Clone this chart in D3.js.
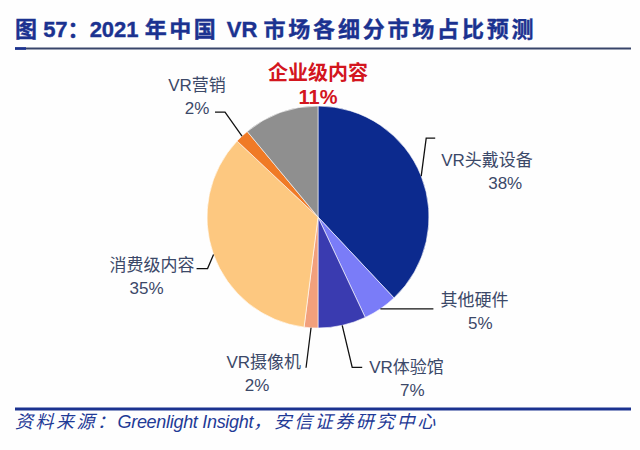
<!DOCTYPE html>
<html><head><meta charset="utf-8">
<script src="https://cdn.jsdelivr.net/npm/d3@7/dist/d3.min.js"></script>
<style>body{margin:0;background:#fff}svg{display:block}</style>
</head><body>
<svg id="c" width="640" height="450"></svg>
<script>
const categories = ["VR头戴设备","其他硬件","VR体验馆","VR摄像机","消费级内容","VR营销","企业级内容"];
const values = [38,5,7,2,35,2,11];
const pctLabels = ["38%","5%","7%","2%","35%","2%","11%"];
const colors = ["#0c2a8e","#7a7cf8","#3a3bb0","#f2a07c","#fdc880","#f07a26","#8f8f8f"];

const svg = d3.select("#c");
const W=640,H=450;
svg.append("rect").attr("width",W).attr("height",H).attr("fill","#fefefe");

const FONT = "'Liberation Sans','Noto Sans CJK SC',sans-serif";

// title: CJK parts slightly spaced, latin parts tight
const title = svg.append("text").attr("x",15).attr("y",37)
  .attr("font-family",FONT).attr("font-weight","bold").attr("font-size",22)
  .attr("fill","#1b3290").attr("stroke","#1b3290").attr("stroke-width",0.4);
const titleParts = [["图 ",0],["57",0],["：",0],["2021 ",0],["年中国 ",2.5],["VR ",0],["市场各细分市场占比预测",2.8]];
titleParts.forEach(([s,ls])=>title.append("tspan").attr("letter-spacing",ls).text(s));
svg.append("line").attr("x1",15).attr("x2",631).attr("y1",48.5).attr("y2",48.5)
  .attr("stroke","#38456a").attr("stroke-width",1.8);
svg.append("line").attr("x1",15).attr("x2",26).attr("y1",48.5).attr("y2",48.5)
  .attr("stroke","#1b3290").attr("stroke-width",2.6);

// footer
svg.append("line").attr("x1",15).attr("x2",631).attr("y1",409).attr("y2",409)
  .attr("stroke","#1b3290").attr("stroke-width",3);
const src = svg.append("text").attr("x",15).attr("y",428)
  .attr("font-family",FONT).attr("font-style","italic").attr("font-size",18)
  .attr("fill","#1f3a96");
src.append("tspan").attr("letter-spacing",2.5).text("资料来源：");
src.append("tspan").attr("letter-spacing",-0.3).text("Greenlight Insight");
src.append("tspan").attr("letter-spacing",2.5).text("，安信证券研究中心");

// pie
const cx=318, cy=217, r=111;
const g = svg.append("g").attr("transform",`translate(${cx},${cy})`);
const pie = d3.pie().sort(null).value(d=>d)(values);
const arc = d3.arc().innerRadius(0).outerRadius(r);
g.selectAll("path").data(pie).join("path")
  .attr("d",arc).attr("fill",(d,i)=>colors[i])
  .attr("stroke","#ffffff").attr("stroke-width",0.6);

// labels: leader bend/end offsets relative to edge point and text anchor
const layout = [
  {bend:[5,-38], end:[14,-38], tx:[20,-10], anchor:"start", px:64},
  {bend:[53,0], end:[53,0], tx:[60,-3], anchor:"start", px:40},
  {bend:[10,42], end:[20,42], tx:[27,48], anchor:"start", px:43},
  {bend:[-5,40], end:[-5,40], tx:[-10,40], anchor:"end", px:-44},
  {bend:[-6,14], end:[-17,14], tx:[-19,16], anchor:"end", px:-48},
  {bend:[-17,-24], end:[-27,-24], tx:[-45,-45], anchor:"middle", px:0},
  null
];
const edge = d3.arc().innerRadius(r).outerRadius(r);
const labelCol = "#3b4868";
pie.forEach((d,i)=>{
  const L = layout[i];
  if(!L){
    const t = svg.append("text").attr("font-family",FONT).attr("font-weight","bold")
      .attr("font-size",20).attr("fill","#d3161e").attr("text-anchor","middle");
    t.append("tspan").attr("x",cx).attr("y",80).text(categories[i]);
    t.append("tspan").attr("x",cx).attr("y",104).text(pctLabels[i]);
    return;
  }
  const [ex,ey] = edge.centroid(d);
  const x0=cx+ex, y0=cy+ey;
  svg.append("polyline")
    .attr("points",[[x0,y0],[x0+L.bend[0],y0+L.bend[1]],[x0+L.end[0],y0+L.end[1]]].map(p=>p.join(",")).join(" "))
    .attr("fill","none").attr("stroke","#111").attr("stroke-width",1.3);
  const tx=x0+L.tx[0], ty=y0+L.tx[1];
  const t = svg.append("text").attr("font-family",FONT).attr("font-size",17).attr("fill",labelCol);
  t.append("tspan").attr("x",tx).attr("y",ty).attr("text-anchor",L.anchor).text(categories[i]);
  const pxc = L.anchor==="middle" ? tx : tx+L.px;
  t.append("tspan").attr("x",pxc).attr("y",ty+23).attr("text-anchor","middle").text(pctLabels[i]);
});
</script>
</body></html>
